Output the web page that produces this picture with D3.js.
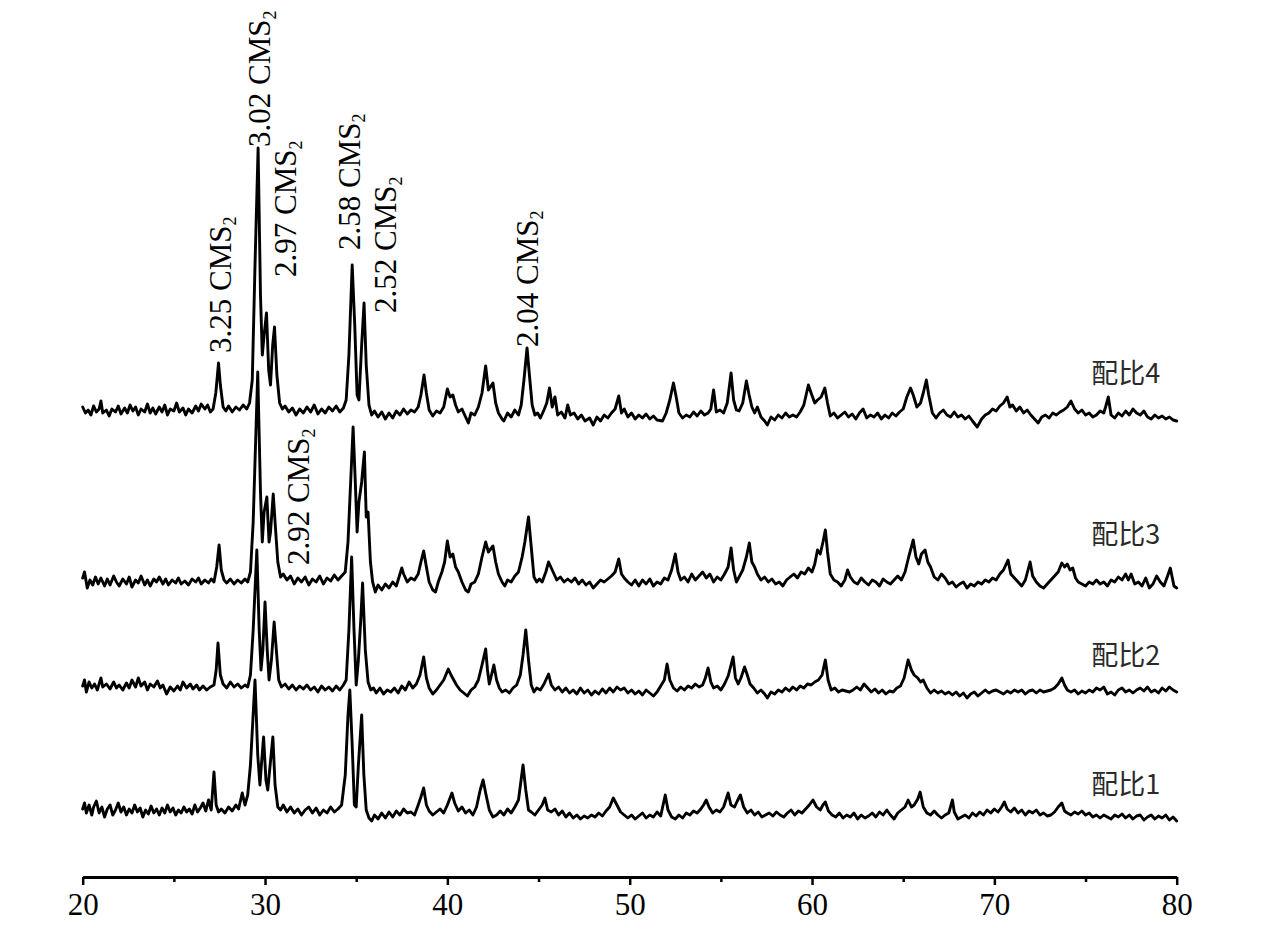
<!DOCTYPE html>
<html><head><meta charset="utf-8">
<script src="https://cdn.jsdelivr.net/npm/d3@7"></script>
<style>body{margin:0;background:#fff}</style>
</head><body>
<svg id="chart" width="1280" height="937"></svg>
<script>
// 2θ (deg) and relative intensity above each pattern's baseline
const ratio1 = [[20,6],[20.1,12],[20.2,2],[20.35,10],[20.5,0],[20.6,8],[20.75,14],[20.9,2],[21.05,8],[21.2,-2],[21.35,6],[21.5,10],[21.65,0],[21.8,5],[21.95,12],[22.1,3],[22.25,8],[22.4,0],[22.55,6],[22.7,2],[22.85,10],[23,3],[23.15,7],[23.3,-2],[23.45,5],[23.6,1],[23.75,9],[23.9,2],[24.05,6],[24.2,0],[24.35,7],[24.5,2],[24.65,10],[24.8,3],[24.95,7],[25.1,0],[25.25,5],[25.4,2],[25.55,8],[25.7,3],[25.85,6],[26,1],[26.15,10],[26.3,3],[26.45,7],[26.6,12],[26.75,4],[26.9,15],[27.05,5],[27.2,43],[27.32,10],[27.45,3],[27.6,6],[27.8,2],[28,8],[28.2,4],[28.4,10],[28.55,6],[28.75,22],[28.9,10],[29.05,20],[29.2,50],[29.45,135],[29.6,60],[29.72,30],[29.8,50],[29.92,78],[30.05,35],[30.15,25],[30.28,50],[30.43,78],[30.55,30],[30.7,8],[30.85,5],[31,10],[31.2,3],[31.4,8],[31.6,2],[31.8,6],[32,0],[32.2,5],[32.4,8],[32.6,2],[32.8,7],[33,0],[33.2,5],[33.4,2],[33.6,8],[33.8,3],[34,6],[34.2,10],[34.4,40],[34.55,100],[34.65,125],[34.78,70],[34.9,10],[35,8],[35.12,50],[35.3,100],[35.42,40],[35.55,5],[35.7,-3],[35.85,-6],[36,0],[36.2,-4],[36.4,2],[36.6,-3],[36.8,3],[37,-2],[37.2,4],[37.4,0],[37.6,6],[37.8,2],[38,3],[38.2,0],[38.4,10],[38.55,18],[38.7,27],[38.85,10],[39,4],[39.2,0],[39.4,3],[39.6,6],[39.8,2],[40,10],[40.25,22],[40.4,12],[40.6,4],[40.8,8],[41,2],[41.2,5],[41.4,0],[41.6,8],[41.8,25],[41.96,35],[42.1,22],[42.3,5],[42.5,-2],[42.7,0],[42.9,4],[43.1,0],[43.3,6],[43.5,2],[43.7,8],[43.9,15],[44.15,50],[44.3,25],[44.45,5],[44.6,3],[44.8,0],[45,5],[45.2,10],[45.35,17],[45.5,5],[45.7,3],[45.9,6],[46.1,0],[46.3,4],[46.5,-2],[46.7,2],[46.9,-3],[47.1,0],[47.3,-4],[47.5,-1],[47.7,-3],[47.9,0],[48.1,-2],[48.3,2],[48.5,-1],[48.7,4],[48.9,8],[49.1,17],[49.3,10],[49.5,3],[49.7,0],[49.9,-3],[50.1,0],[50.3,-4],[50.5,-1],[50.7,2],[50.9,-3],[51.1,0],[51.3,-2],[51.5,3],[51.7,-1],[51.95,20],[52.1,5],[52.3,-2],[52.5,-4],[52.7,0],[52.9,-3],[53.1,2],[53.3,0],[53.5,4],[53.7,2],[53.9,6],[54.05,10],[54.2,15],[54.35,8],[54.55,2],[54.75,5],[54.95,3],[55.15,8],[55.4,22],[55.55,10],[55.75,8],[55.9,14],[56.07,20],[56.25,8],[56.45,2],[56.65,5],[56.85,0],[57.05,3],[57.25,-2],[57.45,0],[57.65,2],[57.85,-1],[58.05,3],[58.25,0],[58.45,-2],[58.65,2],[58.85,5],[59.05,0],[59.25,4],[59.45,2],[59.65,6],[59.85,10],[60.05,15],[60.25,8],[60.45,5],[60.6,10],[60.73,13],[60.9,4],[61.1,0],[61.3,-2],[61.5,2],[61.7,-3],[61.9,0],[62.1,-2],[62.3,2],[62.5,-4],[62.7,0],[62.9,-3],[63.1,-1],[63.3,2],[63.5,-2],[63.7,3],[63.9,0],[64.1,5],[64.3,0],[64.5,-4],[64.7,2],[64.9,5],[65.1,8],[65.27,15],[65.45,8],[65.6,10],[65.8,16],[65.93,23],[66.1,8],[66.3,2],[66.5,0],[66.7,4],[66.9,0],[67.1,-3],[67.3,0],[67.5,2],[67.7,15],[67.8,3],[68,-4],[68.2,-2],[68.4,0],[68.6,-3],[68.8,2],[69,-1],[69.2,3],[69.4,0],[69.6,5],[69.8,2],[70,6],[70.2,3],[70.4,8],[70.55,13],[70.7,6],[70.9,3],[71.1,7],[71.3,2],[71.5,5],[71.7,0],[71.9,4],[72.1,2],[72.3,5],[72.5,0],[72.7,2],[72.9,-1],[73.1,0],[73.3,3],[73.5,8],[73.7,12],[73.85,4],[74,2],[74.2,0],[74.4,3],[74.6,1],[74.8,4],[75,0],[75.2,2],[75.4,-2],[75.6,0],[75.8,-3],[76,0],[76.2,-2],[76.4,-4],[76.6,0],[76.8,-2],[77,1],[77.2,-3],[77.4,0],[77.6,-4],[77.8,-1],[78,0],[78.2,-5],[78.4,-2],[78.6,0],[78.8,-4],[79,-1],[79.2,-3],[79.4,0],[79.6,-5],[79.8,-2],[80,-6]];

const ratio2 = [[20,4],[20.1,10],[20.2,-2],[20.35,8],[20.5,2],[20.65,6],[20.8,0],[21,12],[21.1,3],[21.3,6],[21.5,1],[21.7,8],[21.85,2],[22,5],[22.2,0],[22.4,7],[22.55,2],[22.7,10],[22.9,3],[23.05,12],[23.2,4],[23.4,8],[23.55,0],[23.7,6],[23.9,3],[24.1,9],[24.25,2],[24.4,5],[24.6,-4],[24.8,3],[25,-1],[25.2,4],[25.35,0],[25.5,8],[25.7,2],[25.9,6],[26.05,1],[26.25,5],[26.4,0],[26.6,4],[26.8,0],[27,3],[27.2,5],[27.32,20],[27.42,47],[27.55,15],[27.7,6],[27.9,2],[28.1,8],[28.3,3],[28.5,6],[28.7,2],[28.9,5],[29.05,3],[29.2,15],[29.35,60],[29.55,140],[29.68,60],[29.78,20],[29.88,40],[30,88],[30.12,40],[30.22,10],[30.35,30],[30.5,68],[30.62,40],[30.75,10],[30.9,3],[31.1,6],[31.3,1],[31.5,5],[31.7,0],[31.9,4],[32.1,1],[32.3,5],[32.5,0],[32.7,3],[32.9,-2],[33.1,4],[33.3,0],[33.5,3],[33.7,-1],[33.9,4],[34.1,0],[34.3,5],[34.45,10],[34.6,60],[34.75,133],[34.88,60],[35,5],[35.12,30],[35.25,70],[35.35,107],[35.5,40],[35.65,8],[35.8,0],[35.95,2],[36.1,-3],[36.3,2],[36.5,-4],[36.7,0],[36.9,-2],[37.1,2],[37.3,-3],[37.5,4],[37.7,0],[37.9,8],[38.1,2],[38.3,6],[38.5,15],[38.7,33],[38.85,12],[39,2],[39.2,-4],[39.4,0],[39.6,5],[39.8,10],[40.05,21],[40.2,15],[40.35,10],[40.5,5],[40.7,0],[40.9,-3],[41.1,-6],[41.3,0],[41.5,3],[41.7,10],[41.9,25],[42.1,41],[42.2,20],[42.3,6],[42.42,15],[42.55,25],[42.7,10],[42.85,2],[43,-2],[43.2,0],[43.4,-3],[43.6,2],[43.8,5],[44,15],[44.15,35],[44.3,60],[44.45,30],[44.6,5],[44.75,-2],[44.9,2],[45.1,0],[45.3,6],[45.55,16],[45.7,5],[45.9,0],[46.1,3],[46.3,-2],[46.5,2],[46.7,-3],[46.9,0],[47.1,-4],[47.3,2],[47.5,-3],[47.7,0],[47.9,-5],[48.1,-1],[48.3,-4],[48.5,1],[48.7,-3],[48.9,2],[49.1,-2],[49.3,3],[49.5,0],[49.7,2],[49.9,-3],[50.1,0],[50.3,-4],[50.5,-1],[50.7,-5],[50.9,0],[51.1,-3],[51.3,-6],[51.5,-2],[51.7,4],[51.9,10],[52.05,26],[52.2,10],[52.4,2],[52.6,-1],[52.8,3],[53,0],[53.2,4],[53.4,2],[53.6,6],[53.8,3],[54,5],[54.15,12],[54.3,22],[54.45,8],[54.6,2],[54.8,4],[55,0],[55.2,6],[55.4,14],[55.67,33],[55.8,12],[55.95,6],[56.1,12],[56.3,23],[56.45,15],[56.6,6],[56.8,2],[57,-3],[57.2,0],[57.4,-4],[57.55,-8],[57.75,-2],[57.95,-4],[58.15,0],[58.35,-2],[58.55,2],[58.75,-1],[58.95,3],[59.15,0],[59.35,4],[59.55,2],[59.75,6],[59.95,5],[60.15,8],[60.35,10],[60.55,15],[60.73,30],[60.88,10],[61.05,0],[61.25,2],[61.45,-2],[61.65,0],[61.85,-1],[62.05,-2],[62.25,0],[62.45,3],[62.65,0],[62.85,6],[63.05,2],[63.25,-2],[63.45,1],[63.65,-3],[63.85,0],[64.05,-4],[64.25,-1],[64.45,-2],[64.65,2],[64.85,4],[65.05,12],[65.27,30],[65.45,20],[65.6,15],[65.8,12],[65.95,8],[66.1,10],[66.3,2],[66.5,-3],[66.7,0],[66.9,-3],[67.1,-1],[67.3,-4],[67.5,-2],[67.7,-5],[67.9,-2],[68.1,-6],[68.3,-3],[68.5,-8],[68.7,-4],[68.9,-2],[69.1,-6],[69.3,-3],[69.5,0],[69.7,-3],[69.9,-1],[70.1,0],[70.3,-2],[70.5,-4],[70.7,-1],[70.9,-3],[71.1,0],[71.3,-2],[71.5,0],[71.7,-4],[71.9,-1],[72.1,0],[72.3,-3],[72.5,0],[72.7,-2],[72.9,-1],[73.1,0],[73.3,2],[73.5,6],[73.7,12],[73.85,5],[74,0],[74.2,-2],[74.4,0],[74.6,-4],[74.8,-1],[75,-3],[75.2,0],[75.4,-2],[75.6,2],[75.8,0],[76,3],[76.2,-4],[76.4,-2],[76.6,-5],[76.8,0],[77,2],[77.2,-2],[77.4,0],[77.6,-3],[77.8,0],[78,2],[78.2,-1],[78.4,3],[78.6,-2],[78.8,0],[79,-3],[79.2,2],[79.4,-1],[79.6,3],[79.8,0],[80,-2]];

const ratio3 = [[20,4],[20.1,10],[20.25,-6],[20.4,2],[20.55,-3],[20.7,5],[20.85,-2],[21,4],[21.2,-4],[21.35,3],[21.5,-3],[21.7,6],[21.85,0],[22,-4],[22.2,3],[22.4,-2],[22.55,5],[22.7,-5],[22.9,2],[23.05,-1],[23.2,6],[23.4,-3],[23.55,2],[23.7,-4],[23.9,3],[24.05,0],[24.2,5],[24.4,-2],[24.55,3],[24.7,-3],[24.9,2],[25.1,-1],[25.25,4],[25.4,-2],[25.6,1],[25.8,-3],[26,3],[26.2,0],[26.35,4],[26.5,-2],[26.7,2],[26.9,-1],[27.05,3],[27.2,0],[27.35,15],[27.48,37],[27.6,12],[27.75,2],[27.9,-1],[28.1,3],[28.3,-2],[28.5,2],[28.7,-1],[28.9,3],[29.05,0],[29.2,10],[29.35,60],[29.6,210],[29.75,90],[29.85,40],[29.95,70],[30.1,85],[30.22,40],[30.3,50],[30.45,88],[30.55,60],[30.7,20],[30.85,5],[31,8],[31.2,2],[31.4,6],[31.6,-2],[31.8,4],[32,0],[32.2,5],[32.4,-3],[32.6,3],[32.8,0],[33,6],[33.2,-2],[33.4,4],[33.6,1],[33.8,7],[34,2],[34.2,6],[34.4,10],[34.55,40],[34.83,155],[34.95,100],[35.05,50],[35.15,80],[35.3,100],[35.45,130],[35.55,65],[35.65,70],[35.78,20],[35.9,0],[36.05,-10],[36.2,-3],[36.4,-8],[36.6,-2],[36.8,-6],[37,0],[37.2,-4],[37.35,5],[37.5,14],[37.6,8],[37.8,0],[38,4],[38.2,2],[38.4,8],[38.55,20],[38.7,31],[38.85,15],[39,0],[39.2,-8],[39.35,-10],[39.5,0],[39.7,10],[39.85,20],[40,41],[40.15,25],[40.3,28],[40.45,15],[40.6,10],[40.8,0],[41,-8],[41.15,-10],[41.3,-2],[41.5,0],[41.7,8],[41.9,25],[42.1,40],[42.25,30],[42.5,36],[42.65,20],[42.8,8],[43,0],[43.15,-4],[43.3,2],[43.5,0],[43.7,6],[43.9,10],[44.1,25],[44.25,40],[44.45,65],[44.6,35],[44.75,5],[44.9,0],[45.05,3],[45.2,0],[45.4,10],[45.55,20],[45.7,14],[45.85,8],[46,2],[46.2,5],[46.4,0],[46.6,3],[46.8,0],[47,4],[47.2,-2],[47.4,2],[47.6,-3],[47.8,0],[48,-6],[48.2,-2],[48.4,2],[48.6,0],[48.8,3],[49,6],[49.2,10],[49.4,23],[49.55,8],[49.7,4],[49.9,0],[50.1,-3],[50.3,2],[50.5,-4],[50.7,2],[50.9,-2],[51.1,3],[51.3,-4],[51.5,0],[51.7,-2],[51.9,4],[52.1,2],[52.3,12],[52.5,28],[52.65,10],[52.8,2],[53,5],[53.2,0],[53.4,8],[53.6,2],[53.8,6],[54,10],[54.2,4],[54.4,8],[54.6,0],[54.8,5],[55,2],[55.2,8],[55.4,15],[55.56,34],[55.7,12],[55.85,0],[56,5],[56.2,12],[56.4,25],[56.56,39],[56.7,20],[56.85,15],[57,8],[57.2,2],[57.4,5],[57.6,0],[57.8,3],[58,-2],[58.2,0],[58.4,-4],[58.6,2],[58.8,5],[59,8],[59.2,4],[59.4,10],[59.6,8],[59.8,14],[60,10],[60.15,18],[60.3,32],[60.45,28],[60.6,40],[60.73,52],[60.85,30],[61,8],[61.2,2],[61.4,0],[61.6,-4],[61.8,2],[61.95,12],[62.1,5],[62.3,0],[62.5,-2],[62.7,4],[62.9,0],[63.1,-3],[63.3,2],[63.5,0],[63.7,-4],[63.9,3],[64.1,0],[64.3,-2],[64.5,2],[64.7,6],[64.9,2],[65.1,10],[65.3,25],[65.55,42],[65.7,25],[65.85,18],[66,28],[66.2,32],[66.35,20],[66.5,15],[66.7,5],[66.9,2],[67.1,8],[67.3,4],[67.5,-2],[67.7,0],[67.9,-5],[68.1,-2],[68.3,0],[68.5,-6],[68.7,-2],[68.9,-4],[69.1,0],[69.3,-2],[69.5,2],[69.7,0],[69.9,4],[70.1,2],[70.3,8],[70.5,12],[70.75,22],[70.9,8],[71.1,4],[71.3,0],[71.5,-4],[71.7,2],[71.96,20],[72.1,6],[72.3,0],[72.5,-4],[72.7,-6],[72.9,-2],[73.1,2],[73.3,6],[73.5,10],[73.7,19],[73.85,15],[74,18],[74.15,12],[74.3,14],[74.45,4],[74.6,0],[74.8,-2],[75,-4],[75.2,0],[75.4,-2],[75.6,2],[75.8,-2],[76,0],[76.2,-4],[76.4,2],[76.6,0],[76.8,5],[77,2],[77.2,8],[77.35,2],[77.5,8],[77.7,-2],[77.9,0],[78.1,-4],[78.3,4],[78.5,-6],[78.7,-2],[78.9,6],[79.1,0],[79.3,-4],[79.5,6],[79.65,14],[79.85,-4],[80,-6]];

const ratio4 = [[20,8],[20.15,2],[20.3,5],[20.45,0],[20.6,9],[20.75,3],[20.9,6],[21,14],[21.1,2],[21.3,5],[21.45,-1],[21.6,6],[21.8,3],[21.95,9],[22.1,1],[22.3,7],[22.45,2],[22.6,10],[22.75,4],[22.9,8],[23.05,0],[23.2,6],[23.4,3],[23.55,11],[23.7,2],[23.85,7],[24,1],[24.2,8],[24.35,3],[24.5,10],[24.65,0],[24.8,6],[25,4],[25.15,12],[25.3,3],[25.5,7],[25.65,0],[25.8,6],[26,2],[26.2,9],[26.35,4],[26.5,11],[26.7,6],[26.85,10],[27,3],[27.15,6],[27.3,22],[27.45,52],[27.55,30],[27.7,8],[27.85,4],[28,9],[28.2,3],[28.4,8],[28.6,5],[28.8,10],[29,6],[29.15,12],[29.3,35],[29.45,150],[29.62,267],[29.75,120],[29.85,60],[29.95,80],[30.08,102],[30.2,45],[30.3,30],[30.42,70],[30.52,88],[30.65,40],[30.8,12],[30.95,6],[31.1,9],[31.3,3],[31.5,7],[31.7,0],[31.9,6],[32.1,2],[32.3,8],[32.5,3],[32.7,10],[32.9,1],[33.1,6],[33.3,2],[33.5,8],[33.7,4],[33.9,9],[34.1,3],[34.3,7],[34.45,15],[34.6,60],[34.78,150],[34.92,90],[35.05,20],[35.15,15],[35.3,70],[35.43,112],[35.55,50],[35.7,10],[35.85,0],[36,4],[36.2,-2],[36.4,3],[36.6,-4],[36.8,2],[37,-3],[37.2,4],[37.4,0],[37.6,6],[37.8,1],[38,5],[38.2,3],[38.4,8],[38.55,20],[38.72,40],[38.85,22],[39,5],[39.2,-1],[39.4,4],[39.6,2],[39.8,8],[40,26],[40.15,18],[40.3,20],[40.45,10],[40.6,3],[40.8,6],[41,-2],[41.15,-8],[41.3,2],[41.5,0],[41.7,8],[41.9,22],[42.1,49],[42.25,25],[42.5,32],[42.65,12],[42.8,2],[43,-4],[43.1,-6],[43.3,2],[43.5,-2],[43.7,5],[43.9,0],[44.05,10],[44.2,35],[44.37,67],[44.5,40],[44.65,10],[44.8,0],[44.95,2],[45.1,-3],[45.3,5],[45.45,12],[45.6,27],[45.75,8],[45.9,18],[46.05,0],[46.25,3],[46.45,-3],[46.6,10],[46.75,0],[46.95,2],[47.15,-4],[47.35,0],[47.55,-6],[47.8,-3],[48,-10],[48.2,-2],[48.4,-6],[48.6,0],[48.8,-3],[49,2],[49.2,6],[49.4,19],[49.55,2],[49.7,6],[49.9,-2],[50.1,2],[50.3,-4],[50.5,0],[50.7,-3],[50.9,1],[51.1,-4],[51.3,-1],[51.5,-5],[51.8,-6],[52,2],[52.2,15],[52.4,32],[52.55,18],[52.7,2],[52.9,-3],[53.1,0],[53.3,-2],[53.5,3],[53.7,-1],[53.9,4],[54.1,0],[54.3,2],[54.45,6],[54.6,25],[54.75,3],[54.95,5],[55.15,2],[55.35,12],[55.56,42],[55.7,15],[55.85,5],[56,4],[56.2,12],[56.4,34],[56.55,20],[56.7,8],[56.85,2],[57,8],[57.2,-2],[57.4,-6],[57.55,-10],[57.75,-2],[57.95,-5],[58.15,0],[58.35,-3],[58.55,2],[58.75,-2],[58.95,0],[59.15,-2],[59.35,3],[59.55,10],[59.8,30],[59.95,22],[60.15,12],[60.3,15],[60.5,18],[60.7,27],[60.85,12],[61,-1],[61.2,2],[61.4,-3],[61.6,0],[61.8,3],[62,-2],[62.2,1],[62.4,-4],[62.6,2],[62.8,6],[63,-3],[63.2,0],[63.4,-2],[63.6,2],[63.8,-4],[64,0],[64.2,-3],[64.4,2],[64.6,-1],[64.8,3],[65,6],[65.2,18],[65.4,27],[65.55,20],[65.75,8],[65.95,12],[66.1,22],[66.27,35],[66.4,20],[66.6,2],[66.8,-3],[67,2],[67.2,5],[67.4,0],[67.6,-2],[67.8,3],[68,-2],[68.2,0],[68.4,-4],[68.6,-1],[68.8,-6],[69.06,-12],[69.3,-4],[69.5,0],[69.7,2],[69.9,6],[70.1,4],[70.3,9],[70.5,12],[70.7,18],[70.85,8],[71,10],[71.2,4],[71.4,8],[71.6,2],[71.8,5],[72,0],[72.2,-4],[72.4,-8],[72.6,-2],[72.8,0],[73,-3],[73.2,2],[73.4,0],[73.6,3],[73.8,5],[74,8],[74.2,14],[74.4,6],[74.6,2],[74.8,5],[75,0],[75.2,2],[75.4,-2],[75.6,0],[75.8,4],[76,2],[76.1,8],[76.25,18],[76.4,0],[76.6,-3],[76.8,2],[77,-1],[77.2,4],[77.4,0],[77.6,6],[77.8,2],[78,0],[78.2,4],[78.4,-2],[78.6,-4],[78.8,0],[79,-3],[79.2,-1],[79.4,-4],[79.6,-2],[79.8,-5],[80,-6]];

const patterns = [ratio1, ratio2, ratio3, ratio4];
const patternNames = ["配比1", "配比2", "配比3", "配比4"];
const baselineOffsets = [62, 187, 295, 462];   // vertical stacking offsets (intensity units)
const nameHeights = [83, 212, 333, 494];        // series-name label heights (intensity units)
const nameAt2theta = 79.1;

const majorTicks = [20, 30, 40, 50, 60, 70, 80];
const minorTicks = [25, 35, 45, 55, 65, 75];

// peak annotations: [text, 2θ of label, intensity-unit height of label foot]
const peakLabels = [
  ["3.25", 27.55, 524],
  ["3.02", 29.73, 730],
  ["2.97", 31.15, 600],
  ["2.58", 34.64, 627],
  ["2.52", 36.64, 564],
  ["2.04", 44.4, 530],
  ["2.92", 31.87, 312]
];

const svg = d3.select("#chart");
const x = d3.scaleLinear().domain([20, 80]).range([82.7, 1176.7]);
const y = d3.scaleLinear().domain([0, 877]).range([877, 0]);

const line = d3.line().x(d => x(d[0])).y(d => y(d[1]));

patterns.forEach((pts, i) => {
  const off = baselineOffsets[i];
  svg.append("path")
    .datum(pts.map(p => [p[0], p[1] + off]))
    .attr("d", line)
    .attr("fill", "none")
    .attr("stroke", "#000")
    .attr("stroke-width", 2.9)
    .attr("stroke-linejoin", "round")
    .attr("stroke-linecap", "round");
});

// series names
patternNames.forEach((n, i) => {
  svg.append("text")
    .attr("x", x(nameAt2theta))
    .attr("y", y(nameHeights[i]))
    .attr("text-anchor", "end")
    .attr("font-family", "'Noto Sans CJK SC', sans-serif")
    .attr("font-size", 27)
    .attr("fill", "#2a2a2a")
    .text(n);
});

// peak labels (rotated)
peakLabels.forEach(([t, tx, ty]) => {
  const g = svg.append("text")
    .attr("transform", `translate(${x(tx)},${y(ty)}) rotate(-90)`)
    .attr("dy", "0.33em")
    .attr("font-family", "'Liberation Serif', 'Times New Roman', serif")
    .attr("font-size", 31)
    .attr("fill", "#000");
  g.append("tspan").text(t + " CMS");
  g.append("tspan").attr("font-size", 18).attr("dy", "0.3em").text("2");
});

// x axis
const axisY = y(0);
const axisG = svg.append("g").attr("transform", `translate(0,${axisY})`)
  .call(d3.axisBottom(x).tickValues(majorTicks).tickSize(8).tickSizeOuter(0).tickPadding(8).tickFormat(d3.format("d")));
axisG.select(".domain").attr("stroke", "#000").attr("stroke-width", 3);
axisG.selectAll(".tick line").attr("stroke", "#000").attr("stroke-width", 2.5);
axisG.selectAll(".tick text")
  .attr("font-family", "'Liberation Serif', 'Times New Roman', serif")
  .attr("font-size", 31)
  .attr("fill", "#000");

const minorG = svg.append("g").attr("transform", `translate(0,${axisY})`)
  .call(d3.axisBottom(x).tickValues(minorTicks).tickSize(5).tickSizeOuter(0).tickFormat(""));
minorG.select(".domain").remove();
minorG.selectAll(".tick line").attr("stroke", "#000").attr("stroke-width", 2.5);
</script>
</body></html>
